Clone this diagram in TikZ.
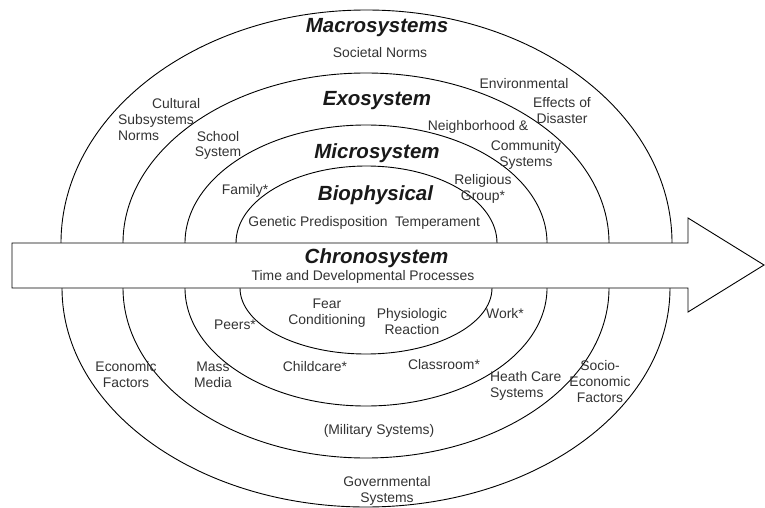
\documentclass[tikz,border=0pt]{standalone}
\usepackage{fontspec}
\setmainfont{Liberation Sans}

\tikzset{
  ring/.style={line width=0.9pt},
  lbl/.style={font=\fontsize{13.9}{16}\selectfont, text=black!80, align=center, anchor=base, inner sep=0pt},
  head/.style={font=\fontsize{20.5}{24}\selectfont\bfseries\itshape, text=black!90, anchor=base, inner sep=0pt}
}

\begin{document}
\begin{tikzpicture}[x=1pt,y=-1pt]
 \useasboundingbox (0,0) rectangle (765,508);

 % upper halves
 \draw [ring] (61,243)  arc [start angle=180, end angle=360, x radius=305.5, y radius=233];
 \draw [ring] (123,243) arc [start angle=180, end angle=360, x radius=243, y radius=170];
 \draw [ring] (185,243) arc [start angle=180, end angle=360, x radius=181, y radius=118];
 \draw [ring] (236,243) arc [start angle=180, end angle=360, x radius=130.5, y radius=77];

 % lower halves
 \draw [ring] (62,288)  arc [start angle=180, end angle=0, x radius=304, y radius=219];
 \draw [ring] (123,288) arc [start angle=180, end angle=0, x radius=243, y radius=170];
 \draw [ring] (185,288) arc [start angle=180, end angle=0, x radius=181, y radius=118];
 \draw [ring] (240,288) arc [start angle=180, end angle=0, x radius=126, y radius=66];

 % time arrow
 \draw [ring, fill=white] (12,243) -- (688,243) -- (688,218) -- (764,265)
   -- (688,312) -- (688,288) -- (12,288) -- cycle;

 \node [head] (macro) at (377,33) {Macrosystems};
 \node [lbl] (societal) at (380,58) {Societal Norms};
 \node [head] (exo) at (377,106) {Exosystem};
 \node [head] (micro) at (377,158) {Microsystem};
 \node [head] (bio) at (375.5,200) {Biophysical};
 \node [lbl] (genetic) at (318,226) {Genetic Predisposition};
 \node [lbl] (temper) at (437.5,226) {Temperament};
 \node [head] (chrono) at (376.5,263) {Chronosystem};
 \node [lbl] (time) at (363,280) {Time and Developmental Processes};

 % last line sits on the given base
 \node [lbl] (fear) at (327,324) {Fear\\Conditioning};
 \node [lbl] (physio) at (412,334) {Physiologic\\Reaction};
 \node [lbl] (peers) at (235,329) {Peers*};
 \node [lbl] (work) at (505,318) {Work*};
 \node [lbl] (childcare) at (315,371) {Childcare*};
 \node [lbl] (classroom) at (444,369) {Classroom*};
 \node [lbl] (media) at (213,387) {Mass\\Media};
 \node [lbl] (econ) at (126,387) {Economic\\Factors};
 \node [lbl, align=left, anchor=base west] (health) at (490,397) {Heath Care\\Systems};
 \node [lbl] (socio) at (600,402) {Socio-\\Economic\\Factors};
 \node [lbl] (military) at (379,434) {(Military Systems)};
 \node [lbl] (govt) at (387,502) {Governmental\\Systems};

 \node [lbl, align=left, anchor=base west] (cultural) at (118,140) {\hspace*{34pt}Cultural\\Subsystems\\Norms};
 \node [lbl] (school) at (218,157) {School\\System};
 \node [lbl] (family) at (245,194) {Family*};
 \node [lbl] (environ) at (524,89) {Environmental};
 \node [lbl] (effects) at (562,124) {Effects of\\Disaster};
 \node [lbl] (neigh) at (478,130) {Neighborhood \&};
 \node [lbl] (community) at (526,166) {Community\\Systems};
 \node [lbl] (religious) at (483,200) {Religious\\Group*};
\end{tikzpicture}
\end{document}
